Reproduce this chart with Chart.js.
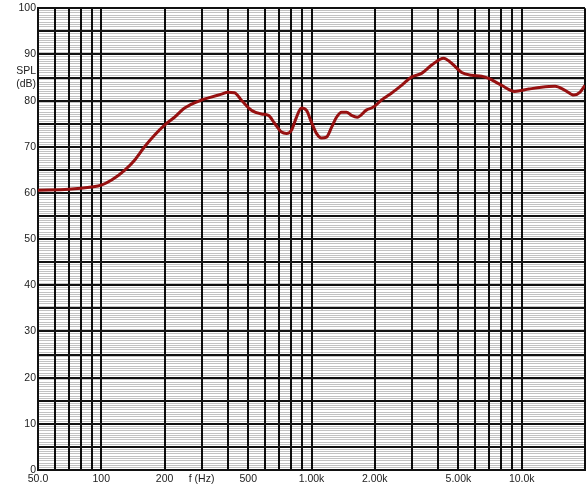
<!DOCTYPE html>
<html>
<head>
<meta charset="utf-8">
<script src="https://cdn.jsdelivr.net/npm/chart.js@4/dist/chart.umd.min.js"></script>
<style>
  html, body { margin: 0; padding: 0; background: #fff; }
  canvas { display: block; }
</style>
</head>
<body>
<canvas id="spl-chart" width="588" height="487"></canvas>
<script>
// frequency response
const freqs = [50, 70, 90, 100, 112, 129, 144, 160, 179, 200, 223, 249, 299, 330, 373, 400, 430, 464,
    518, 578, 624, 667, 720, 760, 803, 848, 896, 947, 1000, 1056, 1116, 1179, 1245, 1315, 1390, 1468,
    1550, 1650, 1830, 1970, 2150, 2400, 2680, 2990, 3340, 3730, 4250, 4640, 5180, 5780, 6450, 6960,
    8030, 9260, 10800, 12400, 14400, 16000, 17700, 18900, 20000];
const spl = [60.6, 60.8, 61.3, 61.7, 62.8, 64.9, 67.1, 69.9, 72.5, 74.7, 76.4, 78.4, 80.1, 80.7, 81.4, 81.8, 81.7, 80.1,
    77.9, 77.1, 76.8, 75.1, 73.2, 72.9, 73.6, 76.4, 78.4, 77.9, 75.3, 72.9, 71.9, 72.1, 74.2, 76.4, 77.5, 77.5,
    76.8, 76.4, 78.0, 78.6, 80.1, 81.6, 83.3, 85.1, 85.9, 87.7, 89.2, 88.1, 86.1, 85.5, 85.3, 84.8,
    83.3, 82.0, 82.5, 82.9, 83.1, 82.3, 81.2, 81.8, 83.3];

// grid + labels
const gridFreqs = [50, 60, 70, 80, 90, 100, 200, 300, 400, 500, 600, 700, 800, 900,
    1000, 2000, 3000, 4000, 5000, 6000, 7000, 8000, 9000, 10000, 20000];
const freqLabels = {50: '50.0', 100: '100', 200: '200', 300: 'f (Hz)', 500: '500',
    1000: '1.00k', 2000: '2.00k', 5000: '5.00k', 10000: '10.0k'};
const splLabels = {0: '0', 10: '10', 20: '20', 30: '30', 40: '40', 50: '50', 60: '60',
    70: '70', 80: '80', 85: ['SPL', '(dB)'], 90: '90', 100: '100'};

Chart.defaults.font.family = '"Liberation Sans", Arial, sans-serif';
Chart.defaults.font.size = 10.5;
Chart.defaults.color = '#222';

const ctx = document.getElementById('spl-chart');

// minor lines are see-through black so they don't break the vertical lines
const isMajor = (c) => c.tick && c.tick.value % 5 === 0;

new Chart(ctx, {
    type: 'line',
    data: {
        datasets: [{
            data: freqs.map((f, i) => ({x: f, y: spl[i]})),
            borderColor: '#961010',
            borderWidth: 3,
            pointRadius: 0,
            cubicInterpolationMode: 'monotone',
            fill: false
        }]
    },
    options: {
        responsive: false,
        animation: false,
        layout: {
            padding: {top: 2, right: 3, left: 0, bottom: 0}
        },
        plugins: {
            legend: {display: false},
            tooltip: {enabled: false}
        },
        scales: {
            x: {
                type: 'logarithmic',
                min: 50,
                max: 20000,
                afterBuildTicks: (scale) => {
                    scale.ticks = gridFreqs.map(v => ({value: v}));
                },
                afterFit: (scale) => { scale.height = 17; },
                ticks: {
                    autoSkip: false,
                    maxRotation: 0,
                    minRotation: 0,
                    padding: 3,
                    callback: (value) => freqLabels[value] ?? ''
                },
                grid: {
                    drawTicks: false,
                    color: '#0d0d0d',
                    lineWidth: 2
                },
                border: {color: '#111', width: 2}
            },
            y: {
                min: 0,
                max: 100,
                afterFit: (scale) => { scale.width = 38; },
                ticks: {
                    stepSize: 0.5,
                    autoSkip: false,
                    padding: 2,
                    callback: (value) => splLabels[value] ?? ''
                },
                grid: {
                    drawTicks: false,
                    color: (c) => isMajor(c) ? '#111' : 'rgba(0,0,0,0.24)',
                    lineWidth: (c) => isMajor(c) ? 2 : 1
                },
                border: {color: '#111', width: 2}
            }
        }
    }
});
</script>
</body>
</html>
